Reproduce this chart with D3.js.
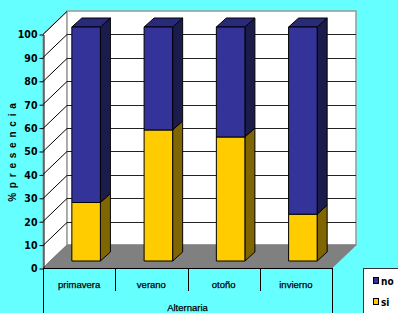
<!DOCTYPE html>
<html><head><meta charset="utf-8">
<script src="https://cdn.jsdelivr.net/npm/d3@7"></script>
<style>html,body{margin:0;padding:0;background:#66ffff;}svg{display:block;}</style>
</head><body>
<svg id="c" width="398" height="313"></svg>
<script>
const categories = ["primavera", "verano", "otoño", "invierno"];
const siValues = [25, 56, 53, 20];
const noValues = [75, 44, 47, 80];
const seriesNames = ["no", "si"];
const tickValues = [0, 10, 20, 30, 40, 50, 60, 70, 80, 90, 100];
const axisTitle = "% p r e s e n c i a";
const categoryTitle = "Alternaria";

const svg = d3.select("#c");
const left = 43, right = 332, front0 = 268, front100 = 34;
const wallDx = 24, wallDy = -23;   // depth of the 3D box
const barDx = 7, barDy = -7;       // plane where bars stand
const depthX = 10, depthY = -9;    // bar depth

const y = d3.scaleLinear().domain([0, 100]).range([front0, front100]);
const x = d3.scaleBand().domain(categories).range([left, right]).paddingInner(0).paddingOuter(0);
const barW = x.bandwidth() * 0.395;

// walls
const backTop = y(100) + wallDy, backBot = y(0) + wallDy;
svg.append("polygon")
  .attr("points", [[left, y(0)], [left, y(100)], [left + wallDx, backTop], [left + wallDx, backBot]].join(" "))
  .attr("fill", "#fff").attr("stroke", "#999").attr("stroke-width", 1);
svg.append("rect").attr("x", left + wallDx).attr("y", backTop)
  .attr("width", right - left).attr("height", backBot - backTop)
  .attr("fill", "#fff").attr("stroke", "#999").attr("stroke-width", 1.5);

// grid lines
tickValues.forEach(v => {
  const fy = Math.round(y(v)) + 0.5;
  svg.append("line").attr("x1", left).attr("y1", fy).attr("x2", left + wallDx).attr("y2", fy + wallDy)
    .attr("stroke", "#000").attr("stroke-width", 1);
  if (v > 0 && v < 100) {
    svg.append("line").attr("x1", left + wallDx).attr("x2", right + wallDx)
      .attr("y1", fy + wallDy).attr("y2", fy + wallDy).attr("stroke", "#222").attr("stroke-width", 1);
  }
});

// floor
svg.append("polygon")
  .attr("points", [[left, y(0)], [right, y(0)], [right + wallDx, backBot], [left + wallDx, backBot]].join(" "))
  .attr("fill", "#808080").attr("stroke", "#808080");

// bars
const colors = {
  si: {front: "#ffcc00", side: "#806600", top: "#ccaa00"},
  no: {front: "#333399", side: "#1c1c4c", top: "#2a2a7a"}
};
function bar3d(x0, v0, v1, c, showTop) {
  const x1 = x0 + barW;
  const yb = y(v0) + barDy, yt = y(v1) + barDy;
  const g = svg.append("g").attr("stroke", "#000").attr("stroke-width", 1).attr("stroke-linejoin", "round");
  g.append("polygon").attr("points", [[x1, yb], [x1 + depthX, yb + depthY], [x1 + depthX, yt + depthY], [x1, yt]].join(" ")).attr("fill", c.side);
  if (showTop) g.append("polygon").attr("points", [[x0, yt], [x0 + depthX, yt + depthY], [x1 + depthX, yt + depthY], [x1, yt]].join(" ")).attr("fill", c.top);
  g.append("rect").attr("x", x0).attr("y", yt).attr("width", barW).attr("height", yb - yt).attr("fill", c.front);
}
categories.forEach((cat, i) => {
  const x0 = x(cat) + (x.bandwidth() - barW) / 2 + barDx;
  bar3d(x0, 0, siValues[i], colors.si, false);
  bar3d(x0, siValues[i], siValues[i] + noValues[i], colors.no, true);
});

// y axis
const yAxis = svg.append("g").attr("transform", `translate(${left + 0.5},0.5)`)
  .call(d3.axisLeft(y).tickValues(tickValues).tickSize(4).tickSizeOuter(0).tickPadding(2));
yAxis.select(".domain").attr("stroke", "#000");
yAxis.selectAll(".tick line").attr("stroke", "#000");
yAxis.selectAll("text").attr("font-family", "'DejaVu Sans Condensed','Liberation Sans Narrow','Liberation Sans',Arial,sans-serif")
  .attr("font-size", 10.5).attr("font-weight", "bold").attr("fill", "#000");
svg.append("line").attr("x1", left + 0.5).attr("x2", left + 0.5).attr("y1", y(0)).attr("y2", 313).attr("stroke", "#000");

// category axis
svg.append("line").attr("x1", left).attr("x2", right).attr("y1", y(0) + 0.5).attr("y2", y(0) + 0.5).attr("stroke", "#000");
categories.forEach((cat, i) => {
  if (i > 0) svg.append("line").attr("x1", Math.round(x(cat)) + 0.5).attr("x2", Math.round(x(cat)) + 0.5)
    .attr("y1", y(0)).attr("y2", 291).attr("stroke", "#000");
  svg.append("text").attr("x", x(cat) + x.bandwidth() / 2).attr("y", 288)
    .attr("text-anchor", "middle").attr("font-family", "'Liberation Sans',Arial,sans-serif")
    .attr("font-size", 9.5).attr("fill", "#000").attr("stroke", "#000").attr("stroke-width", 0.25).text(cat);
});
svg.append("line").attr("x1", right + 0.5).attr("x2", right + 0.5).attr("y1", y(0)).attr("y2", 313).attr("stroke", "#000");
svg.append("text").attr("x", (left + right) / 2).attr("y", 311).attr("text-anchor", "middle")
  .attr("font-family", "'Liberation Sans',Arial,sans-serif").attr("font-size", 9.5).attr("fill", "#000")
  .attr("stroke", "#000").attr("stroke-width", 0.25).text(categoryTitle);

// y title
svg.append("text").attr("transform", "translate(16,152) rotate(-90)").attr("text-anchor", "middle")
  .attr("font-family", "'Liberation Sans',Arial,sans-serif").attr("font-size", 10).attr("font-weight", "bold")
  .attr("letter-spacing", 1).attr("fill", "#000").text(axisTitle);

// legend
svg.append("rect").attr("x", 363.5).attr("y", 268.5).attr("width", 40).attr("height", 50)
  .attr("fill", "#fff").attr("stroke", "#333");
seriesNames.forEach((s, i) => {
  const ly = 281 + i * 21;
  svg.append("rect").attr("x", 373.5).attr("y", ly - 3.5).attr("width", 5).attr("height", 6)
    .attr("fill", colors[s].front).attr("stroke", "#000");
  svg.append("text").attr("x", 381).attr("y", ly + 3.5)
    .attr("font-family", "'DejaVu Sans Condensed','Liberation Sans',Arial,sans-serif").attr("font-size", 10).attr("font-weight", "bold")
    .attr("fill", "#000").text(s);
});
</script>
</body></html>
